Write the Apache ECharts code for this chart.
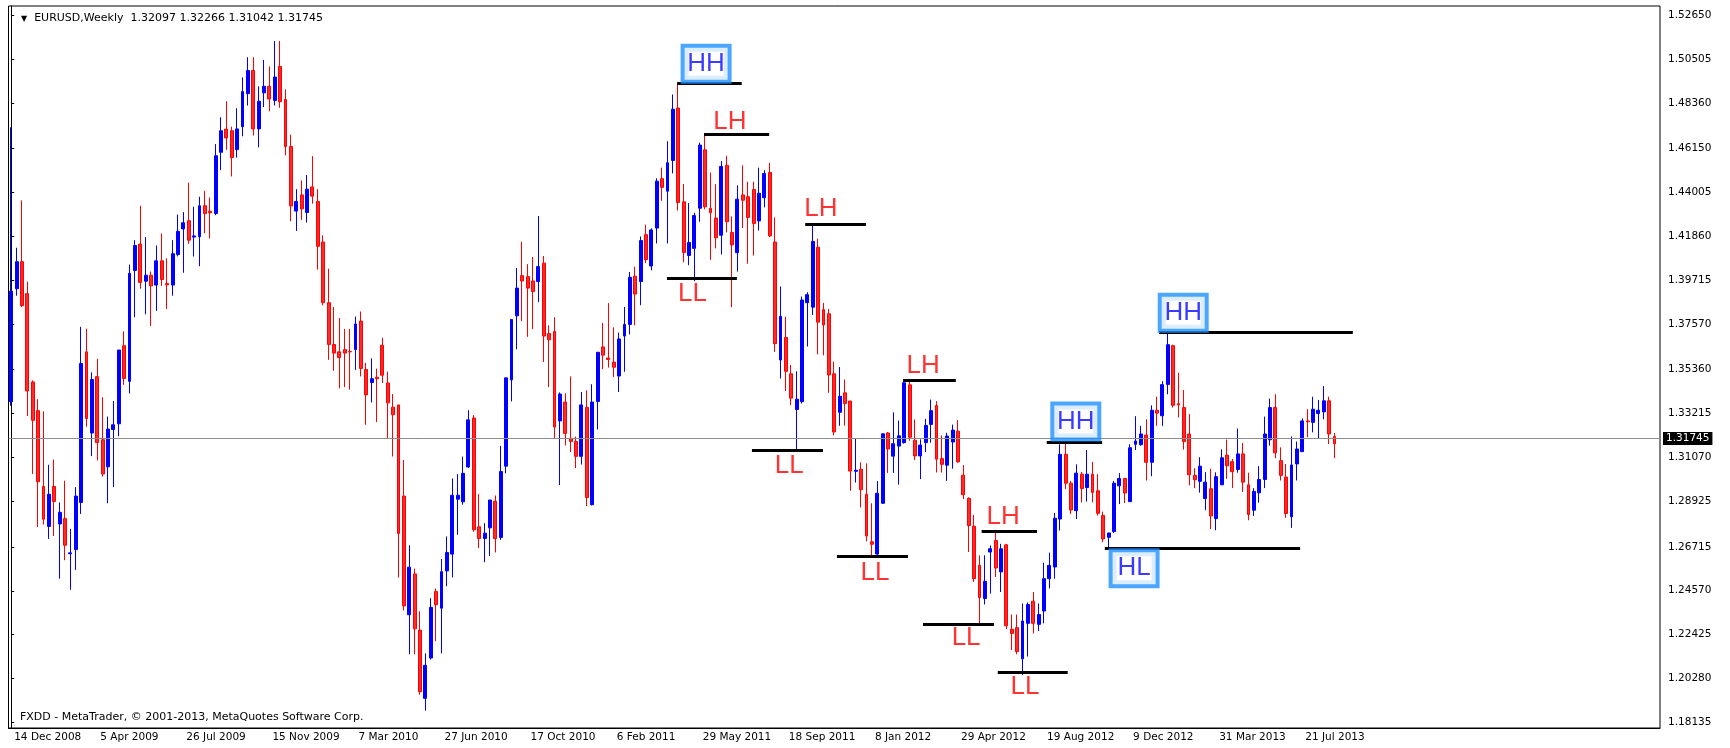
<!DOCTYPE html>
<html style="height: 100%">
<head>
<meta charset="utf-8">
<script type="text/javascript" src="https://cdn.jsdelivr.net/npm/echarts@6.0.0/dist/echarts.min.js"></script>
</head>
<body style="height: 100%; margin: 0; background: #fff">
<div id="container" style="width: 1730px; height: 748px"></div>
<script type="text/javascript">
// weekly EURUSD bars, 14 Dec 2008 .. 1 Sep 2013
var opens = [
    1.3380, 1.3931, 1.4063, 1.3907, 1.3476, 1.3336, 1.2966, 1.2771, 1.2966, 1.2783,
    1.2809, 1.2638, 1.2658, 1.2888, 1.3623, 1.3227, 1.3502, 1.3194, 1.3062, 1.3244,
    1.3272, 1.3653, 1.3479, 1.4020, 1.4149, 1.3968, 1.3997, 1.3949, 1.4067, 1.3957,
    1.3949, 1.4098, 1.4223, 1.4263, 1.4183, 1.4185, 1.4336, 1.4309, 1.4298, 1.4597,
    1.4710, 1.4702, 1.4610, 1.4722, 1.4883, 1.4996, 1.4711, 1.4887, 1.4919, 1.4850,
    1.5016, 1.4855, 1.4625, 1.4310, 1.4389, 1.4303, 1.4428, 1.4357, 1.4159, 1.3863,
    1.3659, 1.3623, 1.3634, 1.3625, 1.3634, 1.3773, 1.3537, 1.3473, 1.3499, 1.3655,
    1.3471, 1.3353, 1.3364, 1.2919, 1.2340, 1.2539, 1.2265, 1.1932, 1.2129, 1.2453,
    1.2372, 1.2554, 1.2636, 1.2904, 1.2891, 1.3061, 1.3300, 1.2769, 1.2712, 1.2764,
    1.2894, 1.2717, 1.3065, 1.3486, 1.3799, 1.3995, 1.3990, 1.3969, 1.3966, 1.4056,
    1.3712, 1.3722, 1.3286, 1.3378, 1.3200, 1.3186, 1.3113, 1.3352, 1.2877, 1.3381,
    1.3647, 1.3593, 1.3573, 1.3505, 1.3700, 1.3757, 1.3992, 1.3966, 1.4195, 1.4042,
    1.4227, 1.4468, 1.4407, 1.4557, 1.4813, 1.4355, 1.4093, 1.4128, 1.4324, 1.4609,
    1.4324, 1.4276, 1.4192, 1.4533, 1.4206, 1.4107, 1.4389, 1.4380, 1.4415, 1.4262,
    1.4375, 1.4498, 1.4159, 1.3583, 1.3693, 1.3516, 1.3342, 1.3380, 1.3863, 1.3841,
    1.4133, 1.3829, 1.3809, 1.3516, 1.3328, 1.3423, 1.3383, 1.3040, 1.3050, 1.2928,
    1.2696, 1.2636, 1.2884, 1.3227, 1.3114, 1.3163, 1.3180, 1.3462, 1.3192, 1.3115,
    1.3180, 1.3269, 1.3361, 1.3102, 1.3070, 1.3183, 1.3236, 1.3021, 1.2908, 1.2772,
    1.2581, 1.2419, 1.2646, 1.2702, 1.2549, 1.2681, 1.2269, 1.2277, 1.2125, 1.2298,
    1.2406, 1.2293, 1.2358, 1.2516, 1.2573, 1.2807, 1.3123, 1.2982, 1.2848, 1.3026,
    1.2961, 1.3026, 1.2945, 1.2824, 1.2718, 1.2746, 1.2969, 1.3005, 1.2892, 1.3172,
    1.3170, 1.3217, 1.3084, 1.3338, 1.3311, 1.3464, 1.3653, 1.3370, 1.3351, 1.3222,
    1.3020, 1.2991, 1.2907, 1.2955, 1.2809, 1.2974, 1.3119, 1.3087, 1.3049, 1.3125,
    1.2974, 1.2850, 1.2935, 1.3000, 1.3194, 1.3351, 1.3092, 1.3012, 1.2818, 1.3076,
    1.3136, 1.3286, 1.3279, 1.3322, 1.3330, 1.3384, 1.32097
];
var highs = [
    1.4719, 1.4131, 1.4362, 1.3966, 1.3484, 1.3392, 1.3333, 1.3072, 1.3097, 1.2888,
    1.2994, 1.2759, 1.2963, 1.3745, 1.3736, 1.3523, 1.3589, 1.3401, 1.3307, 1.3383,
    1.3632, 1.3723, 1.4049, 1.4168, 1.4336, 1.4183, 1.4015, 1.4142, 1.4201, 1.4079,
    1.4168, 1.4293, 1.4305, 1.4449, 1.4331, 1.4380, 1.4409, 1.4376, 1.4637, 1.4768,
    1.4846, 1.4722, 1.4812, 1.4962, 1.5061, 1.5061, 1.4919, 1.5048, 1.5016, 1.5140,
    1.5140, 1.4904, 1.4683, 1.4417, 1.4460, 1.4486, 1.4578, 1.4417, 1.4192, 1.4029,
    1.3842, 1.3788, 1.3735, 1.3735, 1.3795, 1.3820, 1.3569, 1.3591, 1.3541, 1.3692,
    1.3526, 1.3417, 1.3364, 1.3095, 1.2679, 1.2565, 1.2357, 1.2151, 1.2421, 1.2468,
    1.2612, 1.2722, 1.3005, 1.3026, 1.3112, 1.3338, 1.3314, 1.2929, 1.2787, 1.2900,
    1.2922, 1.3164, 1.3496, 1.3781, 1.4033, 1.4160, 1.4051, 1.4086, 1.4286, 1.4091,
    1.3752, 1.3792, 1.3425, 1.3421, 1.3503, 1.3209, 1.3427, 1.3435, 1.3465, 1.3621,
    1.3764, 1.3861, 1.3743, 1.3717, 1.3842, 1.4013, 1.4039, 1.4186, 1.4244, 1.4226,
    1.4470, 1.4522, 1.4651, 1.4879, 1.4934, 1.4442, 1.4349, 1.4302, 1.4644, 1.4690,
    1.4498, 1.4441, 1.4554, 1.4580, 1.4284, 1.4436, 1.4533, 1.4453, 1.4453, 1.4522,
    1.4510, 1.4545, 1.4279, 1.3942, 1.3794, 1.3559, 1.3528, 1.3893, 1.3914, 1.4247,
    1.4175, 1.3862, 1.3832, 1.3575, 1.3549, 1.3488, 1.3383, 1.3201, 1.3084, 1.3079,
    1.2884, 1.2992, 1.3223, 1.3232, 1.3328, 1.3288, 1.3484, 1.3484, 1.3293, 1.3196,
    1.3296, 1.3390, 1.3382, 1.3215, 1.3228, 1.3268, 1.3290, 1.3070, 1.2913, 1.2827,
    1.2630, 1.2630, 1.2678, 1.2746, 1.2686, 1.2686, 1.2341, 1.2341, 1.2395, 1.2400,
    1.2451, 1.2395, 1.2594, 1.2643, 1.2837, 1.3172, 1.3175, 1.2993, 1.3074, 1.3037,
    1.3144, 1.3086, 1.3026, 1.2843, 1.2739, 1.2993, 1.3031, 1.3005, 1.3172, 1.3309,
    1.3262, 1.3294, 1.3362, 1.3404, 1.3480, 1.3715, 1.3658, 1.3521, 1.3437, 1.3319,
    1.3055, 1.3109, 1.3036, 1.3052, 1.3035, 1.3147, 1.3195, 1.3100, 1.3249, 1.3178,
    1.3033, 1.2958, 1.3065, 1.3307, 1.3395, 1.3416, 1.3157, 1.3076, 1.3210, 1.3185,
    1.3298, 1.3343, 1.3404, 1.3388, 1.3456, 1.3404, 1.32266
];
var lows = [
    1.3360, 1.3897, 1.3841, 1.3310, 1.3027, 1.2768, 1.2780, 1.2710, 1.2724, 1.2516,
    1.2606, 1.2462, 1.2559, 1.2832, 1.3258, 1.3114, 1.3093, 1.3015, 1.2884, 1.2963,
    1.3211, 1.3462, 1.3420, 1.3792, 1.3931, 1.3806, 1.3749, 1.3823, 1.3945, 1.3832,
    1.3897, 1.4089, 1.4009, 1.4150, 1.4088, 1.4041, 1.4202, 1.4176, 1.4290, 1.4510,
    1.4609, 1.4479, 1.4571, 1.4675, 1.4825, 1.4679, 1.4621, 1.4818, 1.4797, 1.4825,
    1.4814, 1.4582, 1.4260, 1.4213, 1.4267, 1.4254, 1.4346, 1.4024, 1.3850, 1.3584,
    1.3531, 1.3445, 1.3451, 1.3439, 1.3535, 1.3503, 1.3267, 1.3376, 1.3280, 1.3471,
    1.3203, 1.3112, 1.2522, 1.2361, 1.2147, 1.2147, 1.1950, 1.1872, 1.2121, 1.2211,
    1.2151, 1.2479, 1.2522, 1.2730, 1.2877, 1.3056, 1.2745, 1.2665, 1.2596, 1.2627,
    1.2644, 1.2705, 1.3030, 1.3381, 1.3635, 1.3773, 1.3696, 1.3734, 1.3865, 1.3573,
    1.3451, 1.3201, 1.2973, 1.3166, 1.3134, 1.3056, 1.3073, 1.2870, 1.2873, 1.3244,
    1.3538, 1.3546, 1.3500, 1.3427, 1.3526, 1.3708, 1.3752, 1.3851, 1.4056, 1.4021,
    1.4152, 1.4360, 1.4152, 1.4494, 1.4313, 1.4060, 1.4046, 1.3968, 1.4258, 1.4319,
    1.4072, 1.4128, 1.4098, 1.4206, 1.3841, 1.4015, 1.4227, 1.4053, 1.4093, 1.4215,
    1.4328, 1.4183, 1.3623, 1.3493, 1.3432, 1.3363, 1.3145, 1.3371, 1.3649, 1.3803,
    1.3611, 1.3606, 1.3423, 1.3215, 1.3262, 1.3263, 1.2945, 1.2985, 1.2863, 1.2698,
    1.2624, 1.2627, 1.2881, 1.3032, 1.3032, 1.2975, 1.3175, 1.3189, 1.3095, 1.3002,
    1.3134, 1.3180, 1.3034, 1.3034, 1.2993, 1.3053, 1.3082, 1.2905, 1.2646, 1.2500,
    1.2293, 1.2390, 1.2443, 1.2524, 1.2451, 1.2270, 1.2168, 1.2147, 1.2047, 1.2136,
    1.2249, 1.2260, 1.2298, 1.2468, 1.2516, 1.2751, 1.2953, 1.2832, 1.2807, 1.2888,
    1.2892, 1.2888, 1.2824, 1.2694, 1.2662, 1.2739, 1.2880, 1.2885, 1.2892, 1.3144,
    1.3165, 1.2995, 1.3016, 1.3262, 1.3262, 1.3416, 1.3351, 1.3303, 1.3146, 1.2971,
    1.2958, 1.2936, 1.2850, 1.2758, 1.2752, 1.2974, 1.3003, 1.2958, 1.3033, 1.2939,
    1.2801, 1.2822, 1.2887, 1.2958, 1.3165, 1.3104, 1.2995, 1.2813, 1.2764, 1.2995,
    1.3136, 1.3206, 1.3230, 1.3201, 1.3294, 1.3173, 1.31042
];
var closes = [
    1.3919, 1.4063, 1.3849, 1.3432, 1.3289, 1.2989, 1.2806, 1.2928, 1.2893, 1.2840,
    1.2679, 1.2642, 1.2919, 1.3566, 1.3298, 1.3488, 1.3180, 1.3027, 1.3246, 1.3267,
    1.3632, 1.3493, 1.4006, 1.4142, 1.3962, 1.3997, 1.3945, 1.4067, 1.3976, 1.3950,
    1.4102, 1.4211, 1.4253, 1.4168, 1.4189, 1.4336, 1.4298, 1.4302, 1.4580, 1.4702,
    1.4667, 1.4571, 1.4711, 1.4893, 1.4996, 1.4711, 1.4846, 1.4919, 1.4857, 1.4964,
    1.4844, 1.4625, 1.4335, 1.4357, 1.4321, 1.4417, 1.4383, 1.4138, 1.3863, 1.3659,
    1.3617, 1.3595, 1.3617, 1.3623, 1.3759, 1.3542, 1.3413, 1.3492, 1.3492, 1.3509,
    1.3374, 1.3316, 1.2737, 1.2383, 1.2572, 1.2271, 1.1964, 1.2093, 1.2376, 1.2389,
    1.2550, 1.2644, 1.2923, 1.2923, 1.3030, 1.3291, 1.2755, 1.2712, 1.2738, 1.2900,
    1.2712, 1.3039, 1.3496, 1.3781, 1.3934, 1.3969, 1.3934, 1.3917, 1.4039, 1.3700,
    1.3682, 1.3256, 1.3417, 1.3225, 1.3186, 1.3113, 1.3364, 1.2912, 1.3378, 1.3621,
    1.3607, 1.3586, 1.3548, 1.3686, 1.3757, 1.3987, 1.3905, 1.4166, 1.4073, 1.4218,
    1.4456, 1.4426, 1.4546, 1.4807, 1.4352, 1.4108, 1.4157, 1.4288, 1.4632, 1.4331,
    1.4302, 1.4180, 1.4528, 1.4258, 1.4145, 1.4368, 1.4363, 1.4279, 1.4249, 1.4397,
    1.4493, 1.4189, 1.3663, 1.3796, 1.3528, 1.3397, 1.3392, 1.3876, 1.3902, 1.4162,
    1.3768, 1.3754, 1.3510, 1.3232, 1.3406, 1.3371, 1.3041, 1.3045, 1.2950, 1.2724,
    1.2684, 1.2933, 1.3223, 1.3149, 1.3175, 1.3213, 1.3472, 1.3206, 1.3115, 1.3168,
    1.3264, 1.3336, 1.3099, 1.3074, 1.3212, 1.3241, 1.3086, 1.2926, 1.2775, 1.2516,
    1.2424, 1.2503, 1.2662, 1.2568, 1.2662, 1.2286, 1.2249, 1.2160, 1.2309, 1.2390,
    1.2298, 1.2341, 1.2516, 1.2581, 1.2811, 1.3123, 1.2982, 1.2851, 1.3031, 1.2956,
    1.3026, 1.2937, 1.2835, 1.2710, 1.2739, 1.2982, 1.3005, 1.2934, 1.3155, 1.3188,
    1.3222, 1.3084, 1.3338, 1.3324, 1.3463, 1.3658, 1.3362, 1.3364, 1.3185, 1.3023,
    1.2999, 1.3065, 1.2987, 1.2822, 1.3014, 1.3106, 1.3067, 1.3038, 1.3125, 1.2987,
    1.2829, 1.2942, 1.3000, 1.3222, 1.3351, 1.3130, 1.3020, 1.2834, 1.3071, 1.3149,
    1.3286, 1.3282, 1.3343, 1.3338, 1.3384, 1.3222, 1.31745
];

var dateTicks = ['14 Dec 2008', '5 Apr 2009', '26 Jul 2009', '15 Nov 2009', '7 Mar 2010',
    '27 Jun 2010', '17 Oct 2010', '6 Feb 2011', '29 May 2011', '18 Sep 2011', '8 Jan 2012',
    '29 Apr 2012', '19 Aug 2012', '9 Dec 2012', '31 Mar 2013', '21 Jul 2013'];
var priceTicks = [1.52650, 1.50505, 1.48360, 1.46150, 1.44005, 1.41860, 1.39715, 1.37570,
    1.35360, 1.33215, 1.31070, 1.28925, 1.26715, 1.24570, 1.22425, 1.20280, 1.18135];

// swing levels drawn by hand: [from bar, to bar, price]
var levelLines = [
    [123.8, 135.8, 1.4934], [128.8, 140.9, 1.4684], [121.9, 134.9, 1.3981],
    [147.6, 158.9, 1.4247], [137.7, 150.9, 1.3144], [165.8, 175.6, 1.3482],
    [153.5, 166.7, 1.2624], [180.4, 190.7, 1.2746], [169.5, 182.7, 1.2292],
    [183.4, 196.4, 1.2058], [192.5, 202.8, 1.3183], [203.3, 239.6, 1.2666],
    [213.4, 249.4, 1.3718]
];
// swing tags: [text, bar, price]
var swingLabels = [
    ['HH', 129.18, 1.5029], ['LH', 133.61, 1.4744], ['LL', 126.64, 1.3908],
    ['LH', 150.52, 1.4319], ['LL', 144.63, 1.3066], ['LH', 169.54, 1.3553],
    ['LL', 160.56, 1.2544], ['LH', 184.41, 1.2818], ['LL', 177.51, 1.2229],
    ['LL', 188.44, 1.1987], ['HH', 197.90, 1.3283], ['HL', 208.74, 1.2567],
    ['HH', 217.87, 1.3814]
];

var totalWeeks = 307;   // chart keeps empty room on the right
var MONTHS = ['Jan', 'Feb', 'Mar', 'Apr', 'May', 'Jun', 'Jul', 'Aug', 'Sep', 'Oct', 'Nov', 'Dec'];
var weeks = [];
var t0 = Date.UTC(2008, 11, 14);
for (var i = 0; i < totalWeeks; i++) {
    var d = new Date(t0 + i * 7 * 86400000);
    weeks.push(d.getUTCDate() + ' ' + MONTHS[d.getUTCMonth()] + ' ' + d.getUTCFullYear());
}

var candles = [];
for (i = 0; i < opens.length; i++) {
    candles.push([opens[i], closes[i], lows[i], highs[i]]);
}
var last = opens.length - 1;
var header = 'EURUSD,Weekly  ' + [opens[last], highs[last], lows[last], closes[last]]
    .map(function (v) { return v.toFixed(5); }).join(' ');

var isTick = function (idx, val) { return dateTicks.indexOf(val) >= 0; };
var AXIS_FONT = 'DejaVu Sans';
var TAG_FONT = 'Liberation Sans';

var dom = document.getElementById('container');
var myChart = echarts.init(dom);
var option = {
    animation: false,
    backgroundColor: '#fff',
    title: [{
        text: '{t|\u25BC}  ' + header,
        left: 16,
        top: 8,
        textStyle: {
            fontFamily: AXIS_FONT, fontSize: 11, fontWeight: 'normal', color: '#000',
            rich: { t: { fontFamily: AXIS_FONT, fontSize: 8, color: '#000' } }
        }
    }, {
        text: 'FXDD - MetaTrader, \u00A9 2001-2013, MetaQuotes Software Corp.',
        left: 15,
        top: 707,
        textStyle: { fontFamily: AXIS_FONT, fontSize: 11, fontWeight: 'normal', color: '#000' }
    }],
    grid: {
        left: 8.5, right: 70, top: 6, bottom: 20,
        show: true, borderColor: '#000', borderWidth: 1, backgroundColor: '#fff'
    },
    xAxis: [{
        type: 'category',
        data: weeks,
        boundaryGap: true,
        axisLine: { lineStyle: { color: '#000', width: 1 } },
        axisTick: { interval: isTick, alignWithLabel: true, length: 5, lineStyle: { color: '#000' } },
        axisLabel: {
            interval: isTick, align: 'left', margin: 4,
            padding: [0, 0, 0, 3], fontFamily: AXIS_FONT, fontSize: 10.5, color: '#000'
        },
        splitLine: { show: false }
    }, {
        type: 'value', min: -0.5, max: totalWeeks - 0.5, show: false
    }],
    yAxis: {
        type: 'value',
        position: 'right',
        min: 1.17872,
        max: 1.53109,
        axisLine: { show: true, lineStyle: { color: '#000', width: 1 } },
        axisTick: { show: true, customValues: priceTicks, length: 3, lineStyle: { color: '#000' } },
        axisLabel: {
            customValues: priceTicks, margin: 8,
            formatter: function (v) { return v.toFixed(5); },
            fontFamily: AXIS_FONT, fontSize: 10.5, color: '#000'
        },
        splitLine: { show: false }
    },
    series: [{
        type: 'candlestick',
        xAxisIndex: 0,
        data: candles,
        barWidth: 3.4,
        itemStyle: {
            color: '#0000ff', color0: '#ff2a2a',
            borderColor: '#0000ff', borderColor0: '#ff0000', borderWidth: 1
        },
        markLine: {
            silent: true,
            symbol: ['none', 'none'],
            emphasis: { disabled: true },
            lineStyle: { color: '#8c8c8c', width: 1, type: 'solid' },
            label: {
                position: 'end', distance: 3,
                formatter: closes[last].toFixed(5),
                backgroundColor: '#000', color: '#fff',
                fontFamily: AXIS_FONT, fontSize: 10.5, lineHeight: 12, padding: [1, 3, 0, 3]
            },
            data: [{ yAxis: closes[last] }]
        }
    }, {
        type: 'scatter',
        xAxisIndex: 1,
        z: 5,
        symbolSize: 1,
        silent: true,
        itemStyle: { color: 'rgba(0,0,0,0)' },
        data: swingLabels.map(function (s) {
            var boxed = s[0].charAt(0) === 'H';
            var label = boxed ? {
                show: true, position: 'inside', formatter: s[0],
                fontFamily: TAG_FONT, fontSize: 26, lineHeight: 26, color: '#0a0aff',
                backgroundColor: '#fff', borderColor: '#1e90ff', borderWidth: 4,
                padding: [3, 2, 3, 2], width: 39, align: 'center', verticalAlign: 'middle'
            } : {
                show: true, position: 'inside', formatter: s[0],
                fontFamily: TAG_FONT, fontSize: 26, lineHeight: 26, color: '#ff0000',
                align: 'center', verticalAlign: 'middle'
            };
            return { value: [s[1], s[2]], label: label };
        }),
        markLine: {
            silent: true,
            symbol: ['none', 'none'],
            emphasis: { disabled: true },
            label: { show: false },
            lineStyle: { color: '#000', width: 3, type: 'solid' },
            data: levelLines.map(function (l) {
                return [{ coord: [l[0], l[2]] }, { coord: [l[1], l[2]] }];
            })
        }
    }]
};
if (option && typeof option === 'object') {
    myChart.setOption(option, true);
}
</script>
</body>
</html>
